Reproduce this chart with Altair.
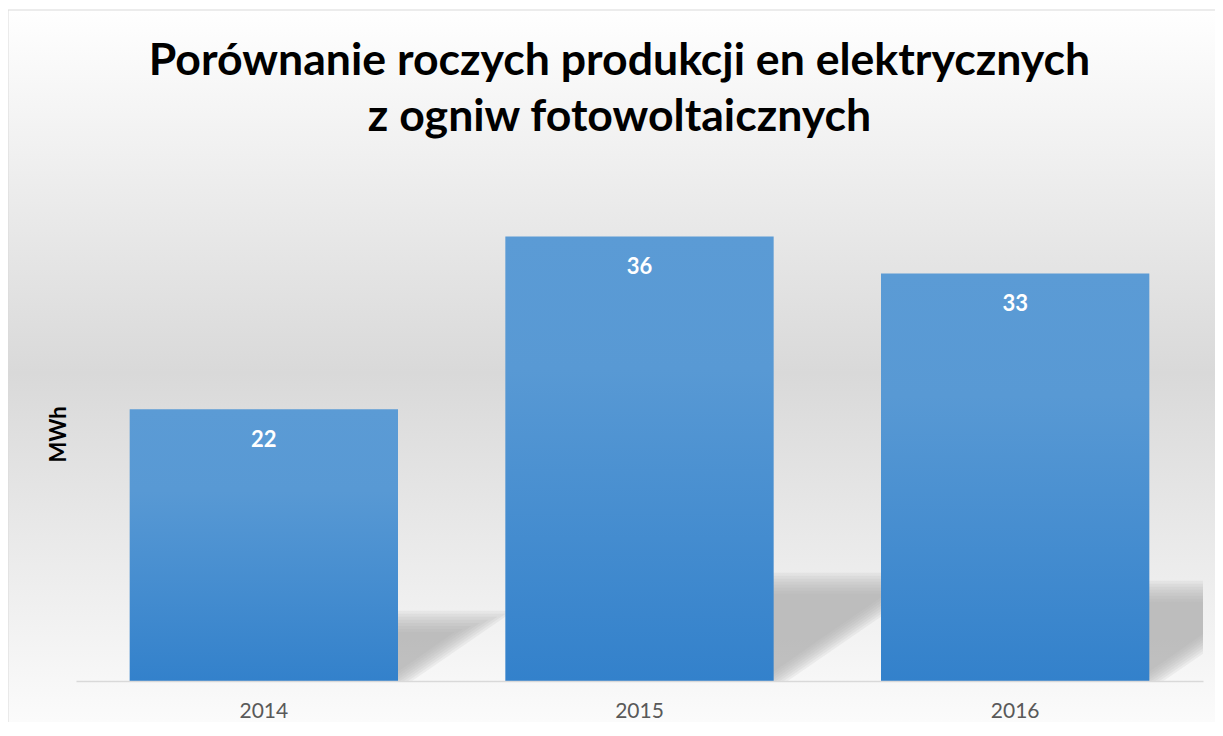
import altair as alt
import pandas as pd

# ---- data ----
years = ["2014", "2015", "2016"]
values = [22, 36, 33]
title_lines = ["Porównanie roczych produkcji en elektrycznych", "z ogniw fotowoltaicznych"]
y_title = "MWh"

# ---- layout constants ----
W, H = 1127, 494
Y_MAX = 40
P_IN = 0.4 / 1.4
P_OUT = 0.2 / 1.4
FONT = "Lato"

df = pd.DataFrame({"year": years, "value": values})

# shadow geometry derived from the values (soft perspective shadow behind each bar)
px_per_val = H / Y_MAX
px_per_x = W / len(years)
half = 0.5 / 1.4
N_SH = 8
rows = []
for i, (yr, v) in enumerate(zip(years, values)):
    c = i + 0.5
    for k in range(N_SH):
        top_px = 0.22 * v * px_per_val + (k - 3.5) * 3
        d = (k - 3.5) * 4 / px_per_x
        shift = 1.45 * top_px / px_per_x
        top = top_px / px_per_val
        key = f"{yr}-{k}"
        rows.append({"key": key, "value": 0, "sx": c - half, "sx2": c + half + d})
        rows.append({"key": key, "value": top, "sx": c - half + shift, "sx2": c + half + d + shift})
shadow_df = pd.DataFrame(rows)

y_scale = alt.Scale(domain=[0, Y_MAX], nice=False, zero=True)
y_axis = alt.Axis(labels=False, ticks=False, domain=False, grid=False, title=y_title,
                  titleFont=FONT, titleFontSize=22, titleFontWeight="bold", titleColor="black",
                  titlePadding=6, zindex=1)

bg_grad = alt.Gradient(gradient="linear", x1=0, x2=0, y1=0, y2=1, stops=[
    alt.GradientStop(offset=0, color="#ffffff"),
    alt.GradientStop(offset=0.483, color="#d9d9d9"),
    alt.GradientStop(offset=1, color="#ffffff"),
])
bar_grad = alt.Gradient(gradient="linear", x1=0, x2=0, y1=0, y2=1, stops=[
    alt.GradientStop(offset=0, color="#5b9bd5"),
    alt.GradientStop(offset=0.3, color="#5899d4"),
    alt.GradientStop(offset=1, color="#3381cb"),
])

bg = alt.Chart(alt.Data(values=[{}])).mark_rect(
    fill=bg_grad, stroke="#d9d9d9", strokeWidth=1
).encode(
    x=alt.value(-68), x2=alt.value(W + 40), y=alt.value(-177), y2=alt.value(H + 80)
)

shadow = alt.Chart(shadow_df).mark_area(
    orient="horizontal", color="#a8a8a8", opacity=0.14, clip=True
).encode(
    y=alt.Y("value:Q", scale=y_scale, axis=y_axis),
    x=alt.X("sx:Q", scale=alt.Scale(domain=[0, 3], nice=False, zero=False), axis=None),
    x2="sx2",
    detail="key:N",
)

x_enc = alt.X("year:N", title=None,
              scale=alt.Scale(paddingInner=P_IN, paddingOuter=P_OUT),
              axis=alt.Axis(labelAngle=0, ticks=False, tickSize=0, labelPadding=19,
                            labelFont=FONT, labelFontSize=21, labelColor="#595959",
                            domain=True, domainColor="#d9d9d9", domainWidth=1.5, grid=False,
                            zindex=1))

bars = alt.Chart(df).mark_bar(fill=bar_grad).encode(
    x=x_enc,
    y=alt.Y("value:Q", scale=y_scale, axis=y_axis),
)

labels = alt.Chart(df).mark_text(
    baseline="alphabetic", dy=38, font=FONT, fontSize=22, fontWeight="bold", color="white"
).encode(
    x=x_enc,
    y=alt.Y("value:Q", scale=y_scale, axis=y_axis),
    text="value:Q",
)

chart = alt.layer(bg, shadow, alt.layer(bars, labels)).resolve_scale(x="independent").properties(
    width=W, height=H,
    autosize=alt.AutoSizeParams(type="none"),
    padding={"left": 68, "top": 179, "right": 12, "bottom": 41},
    title=alt.TitleParams(text=title_lines, font=FONT, fontSize=44.6, fontWeight="bold",
                          color="black", anchor="middle", dx=-20, baseline="alphabetic",
                          lineHeight=56, offset=-166),
).configure_view(strokeWidth=0).configure(background="white")

chart.save("out.html", embed_options={"renderer": "svg", "actions": False})
